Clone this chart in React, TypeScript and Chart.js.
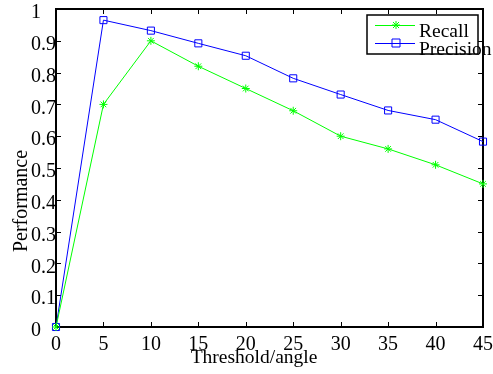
import React, { useEffect, useRef } from "react";
import { Chart, registerables } from "chart.js";

Chart.register(...registerables);

const thresholds = [0, 5, 10, 15, 20, 25, 30, 35, 40, 45];
const recall = [0, 0.70, 0.90, 0.82, 0.75, 0.68, 0.60, 0.56, 0.51, 0.45];
const precision = [0, 0.965, 0.932, 0.892, 0.853, 0.782, 0.731, 0.681, 0.652, 0.583];
const yTicks = [0, 0.1, 0.2, 0.3, 0.4, 0.5, 0.6, 0.7, 0.8, 0.9, 1];
const seriesNames = ["Recall", "Precision"];
const xTitle = "Threshold/angle";
const yTitle = "Performance";

const FONT = '"Liberation Serif", "DejaVu Serif", serif';
const GREEN = "#00ff00";
const BLUE = "#0000ff";

const framePlugin = {
  id: "frame",
  beforeDatasetsDraw(chart: any) {
    const { ctx, chartArea: a, scales } = chart;
    ctx.save();
    ctx.strokeStyle = "#000";
    ctx.lineWidth = 1;
    const tl = 5;
    ctx.beginPath();
    thresholds.forEach((t) => {
      const x = Math.round(scales.x.getPixelForValue(t)) + 0.5;
      ctx.moveTo(x, a.bottom);
      ctx.lineTo(x, a.bottom - tl);
      ctx.moveTo(x, a.top);
      ctx.lineTo(x, a.top + tl);
    });
    yTicks.forEach((v) => {
      const y = Math.round(scales.y.getPixelForValue(v)) + 0.5;
      ctx.moveTo(a.left, y);
      ctx.lineTo(a.left + tl, y);
      ctx.moveTo(a.right, y);
      ctx.lineTo(a.right - tl, y);
    });
    ctx.stroke();
    ctx.lineWidth = 2;
    ctx.strokeRect(a.left, a.top, a.right - a.left, a.bottom - a.top);
    ctx.restore();
  },
  afterDraw(chart: any) {
    const { ctx } = chart;
    ctx.save();
    ctx.fillStyle = "#000";
    ctx.textAlign = "center";
    ctx.textBaseline = "alphabetic";
    ctx.font = `19.5px ${FONT}`;
    ctx.fillText(xTitle, 254, 363);
    ctx.font = `20px ${FONT}`;
    ctx.translate(27, 201);
    ctx.rotate(-Math.PI / 2);
    ctx.fillText(yTitle, 0, 0);
    ctx.restore();

    // legend
    ctx.save();
    const bx = 367, by = 15, bw = 111, bh = 39;
    ctx.fillStyle = "#fff";
    ctx.fillRect(bx, by, bw, bh);
    ctx.strokeStyle = "#000";
    ctx.lineWidth = 1.5;
    ctx.strokeRect(bx, by, bw, bh);
    const rows = [
      { y: by + 10, color: GREEN, name: seriesNames[0], mark: "star" },
      { y: by + 28, color: BLUE, name: seriesNames[1], mark: "rect" },
    ];
    rows.forEach((r) => {
      ctx.strokeStyle = r.color;
      ctx.lineWidth = 1;
      ctx.beginPath();
      ctx.moveTo(bx + 8, r.y + 0.5);
      ctx.lineTo(bx + 48, r.y + 0.5);
      ctx.stroke();
      const mx = bx + 29;
      ctx.beginPath();
      if (r.mark === "star") {
        const s = 4;
        ctx.moveTo(mx - s, r.y); ctx.lineTo(mx + s, r.y);
        ctx.moveTo(mx, r.y - s); ctx.lineTo(mx, r.y + s);
        ctx.moveTo(mx - 3, r.y - 3); ctx.lineTo(mx + 3, r.y + 3);
        ctx.moveTo(mx - 3, r.y + 3); ctx.lineTo(mx + 3, r.y - 3);
      } else {
        ctx.rect(mx - 4, r.y - 4, 8, 8);
      }
      ctx.stroke();
      ctx.fillStyle = "#000";
      ctx.font = `19.5px ${FONT}`;
      ctx.textAlign = "left";
      ctx.textBaseline = "alphabetic";
      ctx.fillText(r.name, bx + 52, r.y + 12);
    });
    ctx.restore();
  },
};

export default function App() {
  const ref = useRef<HTMLCanvasElement>(null);
  useEffect(() => {
    document.body.style.margin = "0";
    const chart = new Chart(ref.current!, {
      type: "line",
      data: {
        datasets: [
          {
            label: seriesNames[0],
            data: thresholds.map((t, i) => ({ x: t, y: recall[i] })),
            borderColor: GREEN,
            backgroundColor: GREEN,
            borderWidth: 1,
            pointStyle: "star",
            pointRadius: 4,
            pointBorderWidth: 1,
            pointBorderColor: GREEN,
            tension: 0,
            clip: false as any,
          },
          {
            label: seriesNames[1],
            data: thresholds.map((t, i) => ({ x: t, y: precision[i] })),
            borderColor: BLUE,
            backgroundColor: "rgba(0,0,0,0)",
            borderWidth: 1,
            pointStyle: "rect",
            pointRadius: 5,
            pointBorderWidth: 1,
            pointBorderColor: BLUE,
            pointBackgroundColor: "rgba(0,0,0,0)",
            tension: 0,
            clip: false as any,
          },
        ],
      },
      options: {
        responsive: false,
        animation: false,
        layout: { padding: { left: 31, top: 9, right: 10, bottom: 0 } },
        plugins: { legend: { display: false }, tooltip: { enabled: false } },
        scales: {
          x: {
            type: "linear",
            min: 0,
            max: 45,
            afterFit(scale: any) { scale.height = 47; scale.paddingLeft = 0; scale.paddingRight = 0; },
            afterBuildTicks(scale: any) { scale.ticks = thresholds.map((v) => ({ value: v })); },
            grid: { display: false, drawTicks: false },
            border: { display: false },
            ticks: {
              color: "#000",
              font: { family: FONT, size: 20 },
              padding: 6,
              maxRotation: 0,
              autoSkip: false,
            },
          },
          y: {
            min: 0,
            max: 1,
            afterFit(scale: any) { scale.width = 25; scale.paddingTop = 0; scale.paddingBottom = 0; },
            afterBuildTicks(scale: any) { scale.ticks = yTicks.map((v) => ({ value: v })); },
            grid: { display: false, drawTicks: false },
            border: { display: false },
            ticks: {
              color: "#000",
              font: { family: FONT, size: 20 },
              crossAlign: "far",
              labelOffset: 4,
              autoSkip: false,
              callback: (v: any) => String(+Number(v).toFixed(1)),
            },
          },
        },
      },
      plugins: [framePlugin],
    });
    return () => chart.destroy();
  }, []);
  return (
    <div style={{ position: "fixed", left: 0, top: 0, width: 493, height: 374, background: "#fff" }}>
      <canvas ref={ref} width={493} height={374} />
    </div>
  );
}
